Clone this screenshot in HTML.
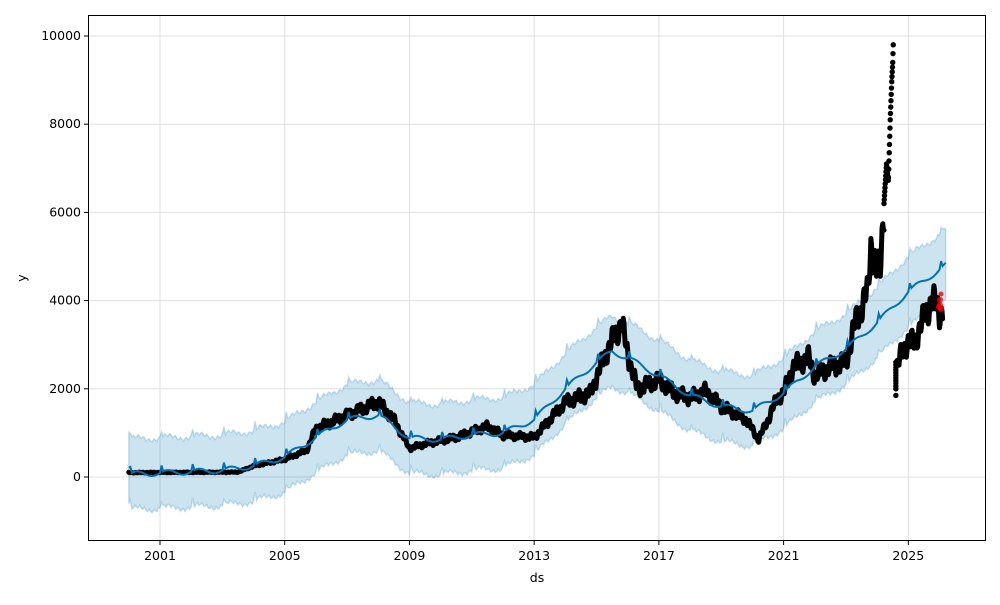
<!DOCTYPE html>
<html><head><meta charset="utf-8"><style>
html,body{margin:0;padding:0;background:#fff;}
svg text{font-family:"DejaVu Sans","Liberation Sans",sans-serif;font-size:12.5px;fill:#000;}
</style></head><body>
<svg id="s" width="1000" height="600" xmlns="http://www.w3.org/2000/svg">
<rect width="1000" height="600" fill="#fff"/>
<g id="grid" stroke="#e0e0e0" stroke-width="1"></g>
<path id="band" fill="#0072b2" fill-opacity="0.2" stroke="#0072b2" stroke-opacity="0.2" stroke-width="1.5"/>
<path id="data" fill="none" stroke="#000" stroke-width="5" stroke-linecap="round" stroke-linejoin="round"/>
<g id="dots" fill="#000"></g>
<path id="trend" fill="none" stroke="#0072b2" stroke-width="2"/>
<g fill="#ff0000" fill-opacity="0.8"><circle cx="941" cy="294" r="2.5"/><circle cx="940" cy="300" r="3"/><circle cx="940" cy="305" r="3"/><circle cx="941" cy="309" r="3"/><circle cx="939" cy="307" r="3"/></g>
<rect x="88.5" y="15.5" width="897" height="525" fill="none" stroke="#000" stroke-width="1"/>
<g id="ticks"></g>
<text x="537" y="582" text-anchor="middle">ds</text>
<text x="26" y="278" text-anchor="middle" transform="rotate(-90 26 278)">y</text>
</svg>
<script>
const X=y=>160+(y-2001)*31.18, Y=v=>477-v*0.0441;
const g=document.getElementById('grid'),t=document.getElementById('ticks');
let gs='',ts='';
[2001,2005,2009,2013,2017,2021,2025].forEach(y=>{const x=X(y);gs+=`<line x1="${x}" x2="${x}" y1="15" y2="541"/>`;ts+=`<line x1="${x}" x2="${x}" y1="541" y2="545" stroke="#000"/><text x="${x}" y="560" text-anchor="middle">${y}</text>`;});
[0,2000,4000,6000,8000,10000].forEach(v=>{const y=Y(v);gs+=`<line x1="88" x2="986" y1="${y}" y2="${y}"/>`;ts+=`<line x1="84" x2="88" y1="${y}" y2="${y}" stroke="#000"/><text x="81" y="${y+4}" text-anchor="end">${v}</text>`;});
g.innerHTML=gs;t.innerHTML=ts;
function interp(pts,y){for(let i=0;i<pts.length-1;i++){if(y<=pts[i+1][0]){const a=pts[i],b=pts[i+1];return a[1]+(b[1]-a[1])*(y-a[0])/(b[0]-a[0]);}}return pts[pts.length-1][1];}
const tr=[[2000.0,60],[2003,150],[2004,250],[2005,450],[2006,900],[2007,1300],[2008,1400],[2008.5,1150],[2009,880],[2010,850],[2011,950],[2012,1000],[2013,1300],[2014,2000],[2015,2600],[2015.5,2850],[2016,2700],[2017,2300],[2018,1850],[2019,1600],[2020,1500],[2021,1900],[2022,2500],[2023,2900],[2024,3500],[2025,4200],[2026.2,4800]];
let tp=[],up=[],lo=[];
for(let y=2000.0;y<=2026.2;y+=0.05){const s=Math.sin(y*2*Math.PI)*60+((y%1)<0.05?150:0);const v=interp(tr,y)+s;tp.push([X(y),Y(v)]);up.push([X(y),Y(v+800+Math.sin(y*37)*40)]);lo.push([X(y),Y(v-800+Math.cos(y*41)*40)]);}
const P=a=>a.map((p,i)=>(i?'L':'M')+p[0].toFixed(1)+' '+p[1].toFixed(1)).join('');
document.getElementById('trend').setAttribute('d',P(tp));
document.getElementById('band').setAttribute('d',P(up)+P(lo.reverse()).replace('M','L')+'Z');
const dp=[[2000.0,100],[2003.5,110],[2004,250],[2005,400],[2005.7,600],[2006,1100],[2007,1400],[2007.5,1550],[2008,1700],[2008.5,1300],[2009,650],[2009.5,750],[2010.5,900],[2011.5,1150],[2012,950],[2013,900],[2013.5,1300],[2014,1700],[2014.8,1900],[2015.3,2800],[2015.8,3500],[2016,2800],[2016.3,2000],[2017,2200],[2017.5,1900],[2018,1800],[2018.5,1950],[2019,1600],[2019.8,1300],[2020.2,850],[2020.5,1300],[2020.8,1800],[2021,1900],[2021.3,2500],[2021.8,2700],[2022,2300],[2022.5,2500],[2023,2600],[2023.3,3500],[2023.7,4200],[2023.8,5300],[2024,4600],[2024.1,4800],[2024.22,6200]];
const dp2=[[2024.62,2500],[2024.8,2800],[2025,3100],[2025.2,3000],[2025.4,3500],[2025.6,3700],[2025.75,4100],[2026.0,3700],[2026.1,3800]];
let dd=[],dd2=[],ds='';
const nz=(y,v)=>v+Math.sin(y*53)*v*0.06+Math.sin(y*17)*v*0.04;
for(let y=2000.0;y<=2024.22;y+=0.02){dd.push([X(y),Y(nz(y,interp(dp,y)))]);}
for(let y=2024.62;y<=2026.1;y+=0.02){dd2.push([X(y),Y(nz(y,interp(dp2,y)))]);}
document.getElementById('data').setAttribute('d',P(dd)+P(dd2));
const sp=[[2024.22,6200],[2024.3,7100],[2024.36,6700],[2024.42,8100],[2024.47,9000],[2024.5,9400],[2024.52,9900]];
for(let y=2024.22;y<=2024.52;y+=0.008){ds+=`<circle cx="${X(y)}" cy="${Y(interp(sp,y))}" r="2.7"/>`;}
for(let v=2000;v<=2600;v+=60){ds+=`<circle cx="${X(2024.6)}" cy="${Y(v)}" r="2.7"/>`;}
ds+=`<circle cx="${X(2024.6)}" cy="${Y(1850)}" r="2.7"/>`;
document.getElementById('dots').innerHTML=ds;
</script>
</body></html>
